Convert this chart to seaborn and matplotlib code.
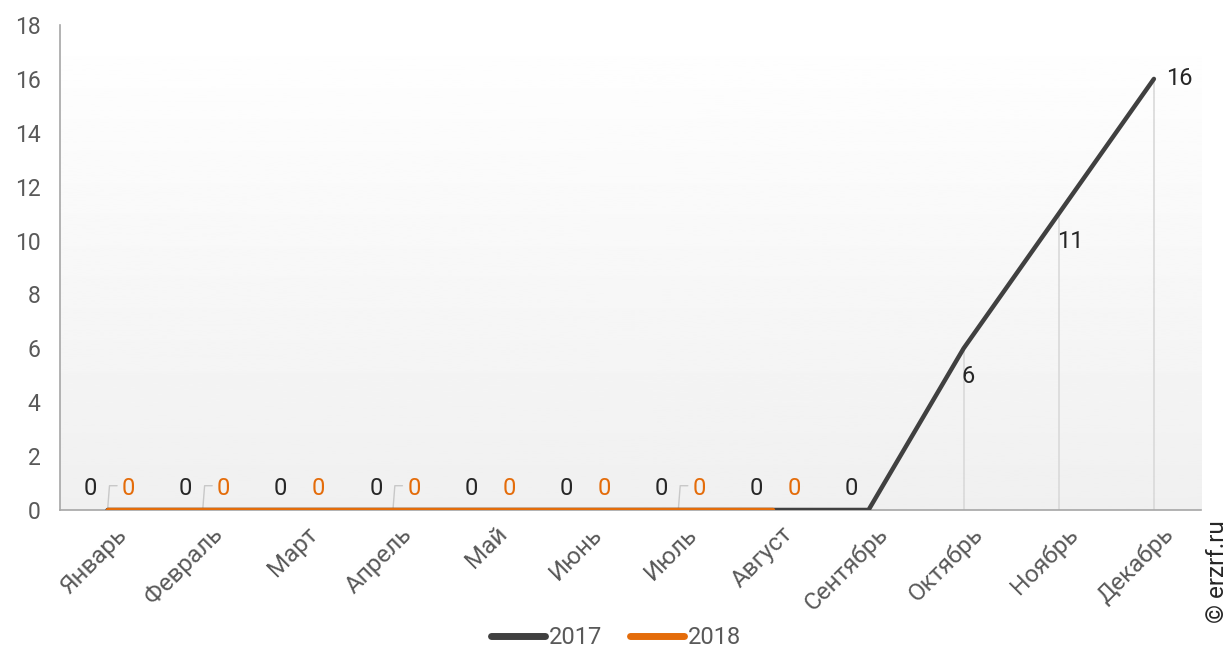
import numpy as np
import pandas as pd
import matplotlib.pyplot as plt
import seaborn as sns

# -------------------------------
# Data
# -------------------------------
months = ["Январь", "Февраль", "Март", "Апрель", "Май", "Июнь",
          "Июль", "Август", "Сентябрь", "Октябрь", "Ноябрь", "Декабрь"]
values_2017 = [0, 0, 0, 0, 0, 0, 0, 0, 0, 6, 11, 16]
values_2018 = [0, 0, 0, 0, 0, 0, 0, 0]
leader_2018 = ["Январь", "Февраль", "Апрель", "Июль"]

DARK = "#404040"
ORANGE = "#E46C0A"
TEXT = "#595959"
AXIS = "#a6a6a6"
FS = 16.5

rows = []
for i, v in enumerate(values_2017):
    rows.append({"idx": i, "value": v, "year": "2017"})
for i, v in enumerate(values_2018):
    rows.append({"idx": i, "value": v, "year": "2018"})
df = pd.DataFrame(rows)

# -------------------------------
# Figure
# -------------------------------
sns.set_style("white")
plt.rcParams["font.family"] = ["Roboto", "DejaVu Sans"]

fig = plt.figure(figsize=(12.3, 6.71), dpi=100)
ax = fig.add_axes([0.0488, 0.240, 0.928, 0.7227])

# gradient background
grad = np.linspace(0.94, 1.0, 256).reshape(-1, 1)
ax.imshow(grad, cmap="gray", vmin=0, vmax=1, aspect="auto",
          extent=[-0.5, 11.5, 0, 18], origin="lower", zorder=0)

sns.lineplot(data=df, x="idx", y="value", hue="year",
             palette={"2017": DARK, "2018": ORANGE}, linewidth=3.2,
             sort=False, ax=ax, zorder=3, solid_capstyle="round")

# drop lines for non-zero values
for i, v in enumerate(values_2017):
    if v > 0:
        ax.plot([i, i], [0, v], color="#d9d9d9", lw=1.2, zorder=2)

# data labels 2017
for i, v in enumerate(values_2017):
    if v == 0:
        ax.text(i - 0.18, 0.8, str(v), ha="center", va="center",
                fontsize=17, color="#262626", zorder=4)
    elif i == len(values_2017) - 1:
        ax.text(i + 0.13, v, str(v), ha="left", va="center",
                fontsize=17, color="#262626", zorder=4)
    else:
        ax.text(i - 0.02, v - 1.05, str(v), ha="left", va="center",
                fontsize=17, color="#262626", zorder=4)

# data labels 2018
for i, v in enumerate(values_2018):
    ax.text(i + 0.22, 0.8, str(v), ha="center", va="center",
            fontsize=17, color=ORANGE, zorder=4)
    if months[i] in leader_2018:
        ax.plot([i, i + 0.02, i + 0.1], [0, 0.9, 0.9], color="#c8c8c8",
                lw=1.0, zorder=2)

# axes styling
ax.set_xlim(-0.5, 11.5)
ax.set_ylim(0, 18)
ax.set_yticks(range(0, 19, 2))
ax.set_xticks(np.arange(-0.5, 12, 1))
ax.set_xticklabels([])
ax.set_xticks(np.arange(12) + 0.08, minor=True)
ax.set_xticklabels(months, minor=True, rotation=45, ha="right",
                   rotation_mode="anchor")
ax.tick_params(axis="x", which="minor", length=0, pad=9,
               labelsize=17.5, labelcolor=TEXT)
ax.tick_params(axis="x", which="major", length=6, color=AXIS, width=1.2)
ax.tick_params(axis="y", length=6, color=AXIS, width=1.2,
               labelsize=FS, labelcolor=TEXT, pad=8)
for s in ["top", "right"]:
    ax.spines[s].set_visible(False)
for s in ["left", "bottom"]:
    ax.spines[s].set_color(AXIS)
    ax.spines[s].set_linewidth(1.2)
ax.set_xlabel("")
ax.set_ylabel("")

leg = ax.legend(loc="upper center", bbox_to_anchor=(0.487, -0.195), ncol=2,
                frameon=False, fontsize=17, handlelength=2.3,
                handletextpad=0.15, columnspacing=1.2)
for t in leg.get_texts():
    t.set_color(TEXT)
for h in leg.get_lines():
    h.set_linewidth(5)
    h.set_solid_capstyle("round")

fig.text(0.990, 0.225, "© erzrf.ru", rotation=90, ha="center", va="top",
         fontsize=17.5, color="#262626")

fig.savefig("out.png", dpi=100)
